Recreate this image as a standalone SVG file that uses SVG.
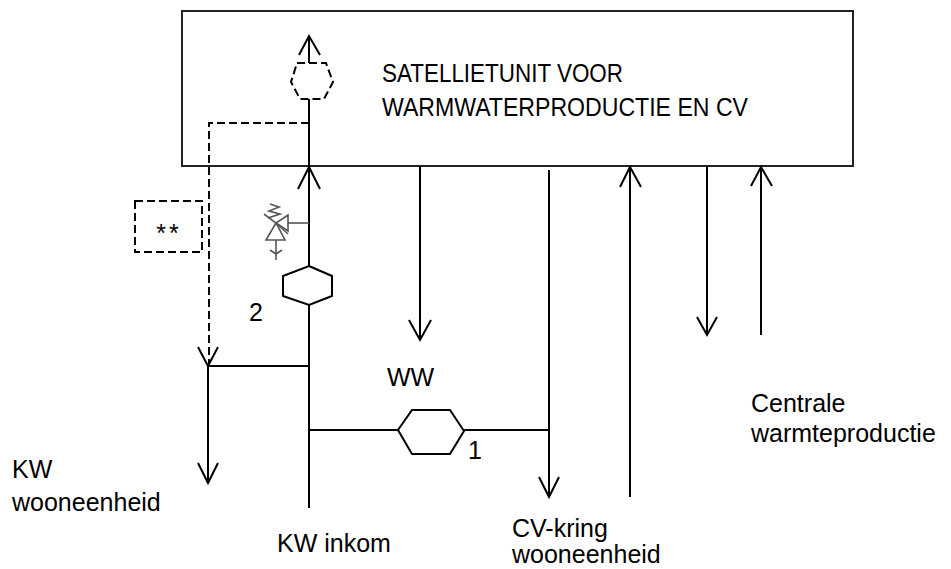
<svg xmlns="http://www.w3.org/2000/svg" width="951" height="569" viewBox="0 0 951 569">
<style>
.ln{fill:none;stroke:#000;stroke-width:2;stroke-linecap:butt;stroke-linejoin:miter}
.ah{fill:none;stroke:#000;stroke-width:2;stroke-linejoin:miter}
.ds{fill:none;stroke:#000;stroke-width:2;stroke-dasharray:8 4}
.hx{fill:#fff;stroke:#000;stroke-width:2}
.vl{fill:none;stroke:#555;stroke-width:1.6}
text{font-family:"Liberation Sans",Arial,sans-serif;font-size:25px;fill:#000}
</style>
<rect width="951" height="569" fill="#fff"/>
<g id="satelliet-unit">
<rect x="182" y="11" width="671" height="155" fill="#fff" stroke="#222" stroke-width="2"/>
<text x="382" y="82" textLength="241" lengthAdjust="spacingAndGlyphs">SATELLIETUNIT VOOR</text>
<text x="382" y="116" textLength="366" lengthAdjust="spacingAndGlyphs">WARMWATERPRODUCTIE EN CV</text>
</g>
<g id="connectors">
<line class="ln" x1="309" y1="99" x2="309" y2="266"/>
<line class="ln" x1="309" y1="305" x2="309" y2="508"/>
<polyline class="ah" points="298,189 309,167 320,189"/>
<line class="ln" x1="309" y1="36" x2="309" y2="63"/>
<polyline class="ah" points="299,55 309,36 320,55"/>
<polyline class="ds" points="309,123 209,123 209,364"/>
<polyline class="ah" points="198,347 208,366 218,347"/>
<line class="ln" x1="208" y1="366" x2="309" y2="366"/>
<line class="ln" x1="208" y1="366" x2="208" y2="482"/>
<polyline class="ah" points="198,463 208,483 218,463"/>
<line class="ln" x1="309" y1="430" x2="398" y2="430"/>
<line class="ln" x1="464" y1="430" x2="549" y2="430"/>
<line class="ln" x1="420" y1="166" x2="420" y2="339"/>
<polyline class="ah" points="409,320 420,340 431,320"/>
<line class="ln" x1="549" y1="170" x2="549" y2="496"/>
<polyline class="ah" points="539,477 549,497 559,477"/>
<line class="ln" x1="630" y1="167" x2="630" y2="497"/>
<polyline class="ah" points="620,187 630,167 641,187"/>
<line class="ln" x1="707" y1="166" x2="707" y2="334"/>
<polyline class="ah" points="697,317 707,335 717,317"/>
<line class="ln" x1="761" y1="167" x2="761" y2="335"/>
<polyline class="ah" points="751,186 761,167 772,186"/>
</g>
<g id="dashed-hexagon">
<polygon class="ds" points="297,63 326,63 333,82 324,99 300,99 291,82" stroke-dasharray="7 4"/>
</g>
<g id="hexagon-2">
<polygon class="hx" points="309,266 332,276 332,296 309,305 283,296 283,276"/>
<text x="249" y="321">2</text>
</g>
<g id="hexagon-1">
<polygon class="hx" points="398,430 412,410 450,410 464,431 450,454 412,454"/>
<text x="468" y="459">1</text>
</g>
<g id="safety-valve">
<line class="vl" x1="288" y1="223" x2="309" y2="223"/>
<polygon class="vl" points="288,215 288,231 276,223"/>
<polygon class="vl" points="266,240 285,240 276,223"/>
<polyline class="vl" points="264,214 276,223 288,234"/>
<polyline class="vl" points="270,204 279,207 269,211 280,214 268,218"/>
<line class="vl" x1="276" y1="240" x2="276" y2="260"/>
<polyline class="vl" points="270,250 276,254 282,250"/>
</g>
<g id="note-box">
<rect class="ds" x="135" y="201" width="67" height="51"/>
<text x="169" y="242" text-anchor="middle" letter-spacing="3" font-size="28">**</text>
</g>
<g id="labels">
<text x="387" y="386">WW</text>
<text x="12" y="478">KW</text>
<text x="12" y="511">wooneenheid</text>
<text x="277" y="552">KW inkom</text>
<text x="512" y="537">CV-kring</text>
<text x="512" y="563">wooneenheid</text>
<text x="751" y="412">Centrale</text>
<text x="751" y="442">warmteproductie</text>
</g>
</svg>
